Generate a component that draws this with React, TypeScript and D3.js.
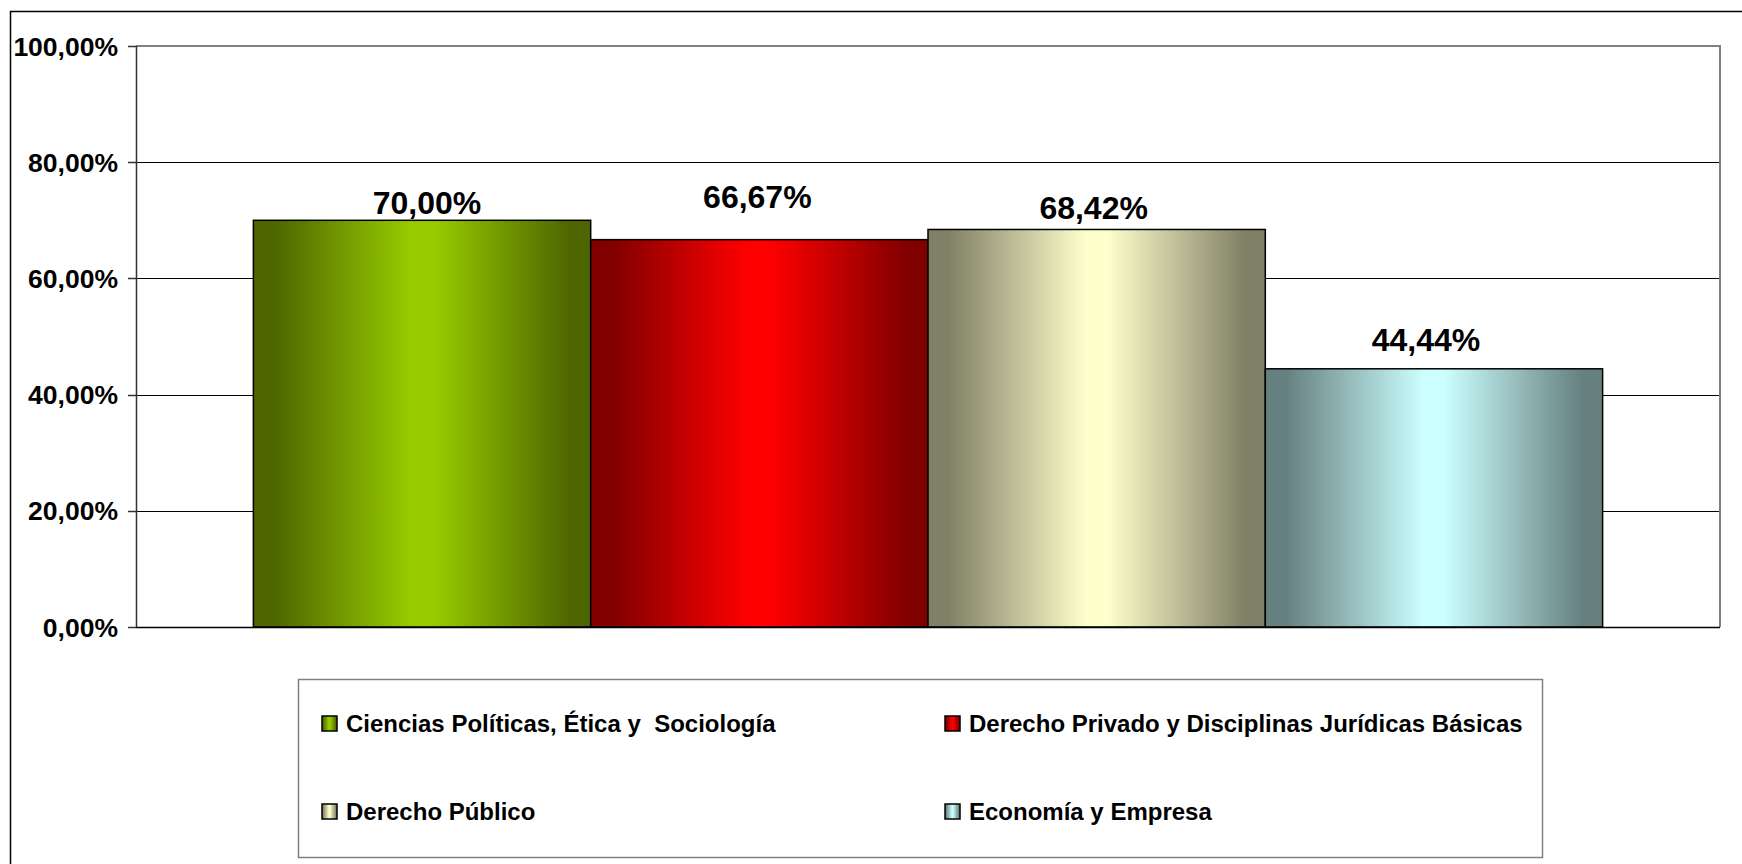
import React from "react";
import * as d3 from "d3";

const categories = [
  "Ciencias Políticas, Ética y  Sociología",
  "Derecho Privado y Disciplinas Jurídicas Básicas",
  "Derecho Público",
  "Economía y Empresa",
];
const values = [0.7, 0.6667, 0.6842, 0.4444];
const yTicks = [0, 0.2, 0.4, 0.6, 0.8, 1];

// styling (not data)
const baseColors = ["#99cc00", "#ff0000", "#ffffcc", "#ccffff"];
const labelNudgeY = [6, 32, 10, 18];
const labelNudgeX = [5, -2, -3, -8];

const W = 1742;
const H = 864;
const plot = { left: 136, right: 1720, top: 46, bottom: 627 };

const locale = d3.formatLocale({
  decimal: ",",
  thousands: ".",
  grouping: [3],
  currency: ["", "€"],
});
const pct = locale.format(".2%");

function darken(c: string) {
  const col = d3.rgb(c);
  return d3.rgb(col.r * 0.5, col.g * 0.5, col.b * 0.5).formatHex();
}

export default function App() {
  const x = d3
    .scaleBand<string>()
    .domain(categories)
    .range([plot.left, plot.right])
    .paddingInner(0)
    .paddingOuter(0.348);
  const y = d3.scaleLinear().domain([0, 1]).range([plot.bottom, plot.top]);

  const font = "'Liberation Sans', Arial, sans-serif";

  const legendBox = { x: 298, y: 679, w: 1244, h: 178 };
  const legendCols = [322, 945];
  const legendRows = [723, 811];

  return (
    <svg
      width={W}
      height={H}
      style={{ position: "absolute", left: 0, top: 0, background: "#fff" }}
      fontFamily={font}
    >
      <defs>
        {baseColors.map((c, i) => {
          const dark = darken(c);
          return (
            <linearGradient key={i} id={`g${i}`} x1="0" x2="1" y1="0" y2="0">
              <stop offset="0" stopColor={dark} />
              <stop offset="0.06" stopColor={dark} />
              <stop offset="0.47" stopColor={c} />
              <stop offset="0.53" stopColor={c} />
              <stop offset="0.94" stopColor={dark} />
              <stop offset="1" stopColor={dark} />
            </linearGradient>
          );
        })}
      </defs>

      {/* chart outer border */}
      <rect x={10.5} y={11.5} width={3000} height={3000} fill="#fff" stroke="#000" strokeWidth={1.5} />

      {/* gridlines */}
      {yTicks.map((t) => (
        <line
          key={t}
          x1={plot.left}
          x2={plot.right}
          y1={Math.round(y(t)) + 0.5}
          y2={Math.round(y(t)) + 0.5}
          stroke="#000"
          strokeWidth={1}
        />
      ))}

      {/* plot area border (top/right gray) */}
      <path
        d={`M${plot.left},${plot.top} H${plot.right} V${plot.bottom}`}
        fill="none"
        stroke="#808080"
        strokeWidth={2}
      />

      {/* bars */}
      {categories.map((c, i) => (
        <rect
          key={c}
          x={x(c)!}
          y={y(values[i])}
          width={x.bandwidth()}
          height={y(0) - y(values[i])}
          fill={`url(#g${i})`}
          stroke="#000"
          strokeWidth={1.5}
        />
      ))}

      {/* axes */}
      <line x1={plot.left + 0.5} x2={plot.left + 0.5} y1={plot.top} y2={plot.bottom} stroke="#333" strokeWidth={1.5} />
      <line x1={plot.left} x2={plot.right} y1={plot.bottom + 0.5} y2={plot.bottom + 0.5} stroke="#000" strokeWidth={1.5} />
      {yTicks.map((t) => (
        <g key={t}>
          <line
            x1={plot.left - 8}
            x2={plot.left}
            y1={Math.round(y(t)) + 0.5}
            y2={Math.round(y(t)) + 0.5}
            stroke="#333"
            strokeWidth={1.5}
          />
          <text
            x={118}
            y={y(t)}
            dy="0.36em"
            textAnchor="end"
            fontSize={26.5}
            fontWeight="bold"
            fill="#000"
          >
            {pct(t)}
          </text>
        </g>
      ))}

      {/* data labels */}
      {categories.map((c, i) => (
        <text
          key={c}
          x={x(c)! + x.bandwidth() / 2 + labelNudgeX[i]}
          y={y(values[i]) - labelNudgeY[i]}
          textAnchor="middle"
          fontSize={32}
          fontWeight="bold"
          fill="#000"
        >
          {pct(values[i])}
        </text>
      ))}

      {/* legend */}
      <rect
        x={legendBox.x + 0.5}
        y={legendBox.y + 0.5}
        width={legendBox.w}
        height={legendBox.h}
        fill="#fff"
        stroke="#808080"
        strokeWidth={1.5}
      />
      {categories.map((c, i) => {
        const lx = legendCols[i % 2];
        const ly = legendRows[Math.floor(i / 2)];
        return (
          <g key={c}>
            <rect
              x={lx}
              y={ly - 7}
              width={15}
              height={15}
              fill={`url(#g${i})`}
              stroke="#000"
              strokeWidth={1.5}
            />
            <text
              x={lx + 24}
              y={ly}
              dy="0.36em"
              fontSize={24}
              fontWeight="bold"
              fill="#000"
              style={{ whiteSpace: "pre" }}
            >
              {c}
            </text>
          </g>
        );
      })}
    </svg>
  );
}
